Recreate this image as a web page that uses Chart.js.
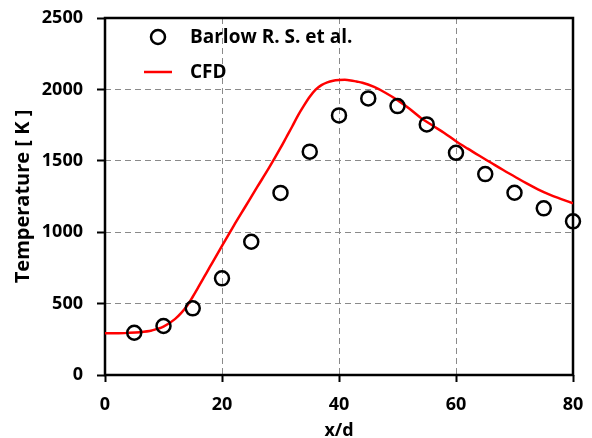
<!DOCTYPE html>
<html><head><meta charset="utf-8">
<script src="https://cdn.jsdelivr.net/npm/chart.js@4/dist/chart.umd.min.js"></script>
<style>html,body{margin:0;padding:0;background:#fff}</style>
</head><body>
<canvas id="c" width="592" height="438" style="display:block;width:592px;height:438px"></canvas>
<script>
// Experimental data (Barlow R. S. et al.)
const expX = [5, 10, 15, 20, 25, 30, 35, 40, 45, 50, 55, 60, 65, 70, 75, 80];
const expT = [296, 343, 467, 677, 933, 1275, 1564, 1818, 1937, 1883, 1755, 1556, 1407, 1276, 1167, 1076];
// CFD curve
const cfdX = [0, 2, 4, 6, 8, 10, 12, 13, 14, 15, 16, 17, 18, 20, 22, 24, 26, 28, 30, 31, 32, 33, 34, 35, 36, 37, 38, 39, 40, 41, 42, 43, 44, 46, 48, 50, 52, 54, 56, 58, 60, 62, 64, 66, 68, 70, 72, 74, 76, 78, 80];
const cfdT = [292, 293, 295, 300, 312, 338, 393, 433, 483, 548, 618, 690, 762, 905, 1045, 1180, 1315, 1448, 1590, 1665, 1740, 1818, 1886, 1948, 1998, 2030, 2049, 2060, 2065, 2067, 2063, 2055, 2047, 2017, 1975, 1925, 1866, 1800, 1747, 1695, 1637, 1585, 1535, 1486, 1437, 1390, 1343, 1300, 1263, 1232, 1202];
const xTicks = [0, 20, 40, 60, 80];
const yTicks = [0, 500, 1000, 1500, 2000, 2500];
const labelExp = 'Barlow R. S. et al.';
const labelCfd = 'CFD';

const FONT = '"Open Sans", Lato, sans-serif';

const boxPlugin = {
  id: 'box',
  beforeDatasetsDraw(chart) {
    const {ctx, chartArea: a} = chart;
    ctx.save();
    ctx.strokeStyle = '#000';
    ctx.lineWidth = 2.5;
    ctx.strokeRect(a.left, a.top, a.right - a.left, a.bottom - a.top);
    ctx.restore();
  }
};

const legendPlugin = {
  id: 'insideLegend',
  afterDraw(chart) {
    const {ctx} = chart;
    const ds = chart.data.datasets;
    ctx.save();
    ctx.font = 'bold 19px ' + FONT;
    ctx.fillStyle = '#000';
    ctx.textBaseline = 'middle';
    ctx.textAlign = 'left';
    ctx.beginPath();
    ctx.lineWidth = ds[0].pointBorderWidth;
    ctx.strokeStyle = ds[0].borderColor;
    ctx.arc(158, 37, ds[0].pointRadius, 0, Math.PI * 2);
    ctx.stroke();
    ctx.fillText(ds[0].label, 190, 38);
    ctx.beginPath();
    ctx.lineWidth = ds[1].borderWidth;
    ctx.strokeStyle = ds[1].borderColor;
    ctx.moveTo(144, 72);
    ctx.lineTo(172, 72);
    ctx.stroke();
    ctx.fillText(ds[1].label, 190, 73);
    ctx.restore();
  }
};

const interiorColor = (vals) => (c) => {
  const v = c.tick ? c.tick.value : null;
  if (v === null || v === vals[0] || v === vals[vals.length - 1]) return 'rgba(0,0,0,0)';
  return '#8a8a8a';
};

new Chart(document.getElementById('c'), {
  type: 'scatter',
  data: {
    datasets: [
      {
        label: labelExp,
        data: expX.map((x, i) => ({x: x, y: expT[i]})),
        showLine: false,
        pointRadius: 7,
        pointBorderWidth: 2.5,
        borderColor: '#000',
        backgroundColor: 'rgba(0,0,0,0)',
        clip: false,
        order: 0
      },
      {
        label: labelCfd,
        data: cfdX.map((x, i) => ({x: x, y: cfdT[i]})),
        showLine: true,
        pointRadius: 0,
        borderColor: '#ff0000',
        backgroundColor: '#ff0000',
        borderWidth: 2.5,
        cubicInterpolationMode: 'monotone',
        order: 1
      }
    ]
  },
  options: {
    responsive: false,
    animation: false,
    devicePixelRatio: 1,
    layout: {padding: {top: 18, right: 19, left: 0, bottom: 0}},
    plugins: {legend: {display: false}, tooltip: {enabled: false}},
    scales: {
      x: {
        type: 'linear', min: xTicks[0], max: xTicks[xTicks.length - 1],
        afterBuildTicks: (s) => { s.ticks = xTicks.map(v => ({value: v})); },
        afterFit: (s) => { s.height = 63; s.paddingLeft = 0; s.paddingRight = 0; },
        ticks: {color: '#000', font: {family: FONT, size: 18, weight: 'bold'}, padding: 12, maxRotation: 0, callback: (v) => String(v)},
        grid: {color: interiorColor(xTicks), lineWidth: 1, tickColor: '#000', tickWidth: 2, tickLength: 7},
        border: {display: false, dash: [6, 4]},
        title: {display: true, text: 'x/d', color: '#000', font: {family: FONT, size: 18, weight: 'bold', lineHeight: 0.8}, padding: 0}
      },
      y: {
        type: 'linear', min: yTicks[0], max: yTicks[yTicks.length - 1],
        afterBuildTicks: (s) => { s.ticks = yTicks.map(v => ({value: v})); },
        afterFit: (s) => { s.width = 105; s.paddingTop = 0; s.paddingBottom = 0; },
        ticks: {color: '#000', font: {family: FONT, size: 18, weight: 'bold'}, padding: 14, callback: (v) => String(v)},
        grid: {color: interiorColor(yTicks), lineWidth: 1, tickColor: '#000', tickWidth: 2, tickLength: 8},
        border: {display: false, dash: [6, 4]},
        title: {display: true, text: 'Temperature [ K ]', color: '#000', font: {family: FONT, size: 20, weight: 'bold'}, padding: {top: 11, bottom: 0}}
      }
    }
  },
  plugins: [boxPlugin, legendPlugin]
});
</script>
</body></html>
